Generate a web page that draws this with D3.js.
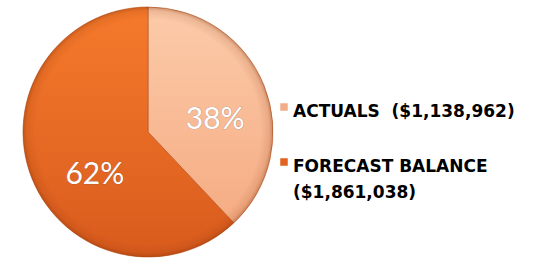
<!DOCTYPE html>
<meta charset="utf-8">
<title>Actuals vs Forecast Balance</title>
<script src="https://d3js.org/d3.v7.min.js"></script>
<style>
  body { margin: 0; background: #fff; }
</style>
<body>
<svg width="540" height="265"></svg>
<script>

// Data
var labels = ["ACTUALS  ($1,138,962)", "FORECAST BALANCE"];
var labelLines2 = ["", "($1,861,038)"];
var amounts = [1138962, 1861038];
var percents = ["38%", "62%"];

var svg = d3.select("svg"),
    cx = 148, cy = 132, radius = 125;

var defs = svg.append("defs");

// vertical shading for each slice
var grads = [
  {id: "gLight", top: "#FCCBAA", bottom: "#F4A77D"},
  {id: "gDark",  top: "#F67A2C", bottom: "#D95B1D"}
];
grads.forEach(function(d) {
  var lg = defs.append("linearGradient")
      .attr("id", d.id)
      .attr("gradientUnits", "userSpaceOnUse")
      .attr("x1", 0).attr("y1", -radius).attr("x2", 0).attr("y2", radius);
  lg.append("stop").attr("offset", "0%").attr("stop-color", d.top);
  lg.append("stop").attr("offset", "100%").attr("stop-color", d.bottom);
});

// rim darkening
var rg = defs.append("radialGradient")
    .attr("id", "rim")
    .attr("gradientUnits", "userSpaceOnUse")
    .attr("cx", 0).attr("cy", 0).attr("r", radius);
rg.append("stop").attr("offset", "90%").attr("stop-color", "#7a2a00").attr("stop-opacity", 0);
rg.append("stop").attr("offset", "97%").attr("stop-color", "#7a2a00").attr("stop-opacity", 0.12);
rg.append("stop").attr("offset", "100%").attr("stop-color", "#7a2a00").attr("stop-opacity", 0.35);

var fills = ["url(#gLight)", "url(#gDark)"];
var swatch = ["#F0AD88", "#E2621F"];

var pie = d3.pie().sort(null).value(function(d) { return d; });
var arc = d3.arc().innerRadius(0).outerRadius(radius);
var labelArc = d3.arc().innerRadius(68).outerRadius(68);

var arcs = pie(amounts);

var g = svg.append("g")
    .attr("transform", "translate(" + cx + "," + cy + ")");

g.selectAll("path.slice")
  .data(arcs)
  .enter().append("path")
    .attr("class", "slice")
    .attr("d", arc)
    .attr("fill", function(d, i) { return fills[i]; })
    .attr("stroke", "#b9521c")
    .attr("stroke-opacity", 0.6)
    .attr("stroke-width", 1);

g.selectAll("path.rim")
  .data(arcs)
  .enter().append("path")
    .attr("class", "rim")
    .attr("d", arc)
    .attr("fill", "url(#rim)");

// percentage labels
var offsets = [[4, 22], [10, 27]];
g.selectAll("text.pct")
  .data(arcs)
  .enter().append("text")
    .attr("class", "pct")
    .attr("x", function(d, i) { return labelArc.centroid(d)[0] + offsets[i][0]; })
    .attr("y", function(d, i) { return labelArc.centroid(d)[1] + offsets[i][1]; })
    .attr("text-anchor", "middle")
    .style("font-family", "Lato, 'Open Sans', sans-serif")
    .style("font-size", "30px")
    .style("fill", "#fff")
    .style("stroke", "#3a4a70")
    .style("stroke-width", 0.6)
    .style("stroke-opacity", 0.5)
    .style("paint-order", "stroke")
    .text(function(d, i) { return percents[i]; });

// legend
var legendY = [117, 172];
var legend = svg.selectAll(".legend")
  .data(labels)
  .enter().append("g")
    .attr("class", "legend");

legend.append("rect")
    .attr("x", 280)
    .attr("y", function(d, i) { return legendY[i] - 14; })
    .attr("width", 8)
    .attr("height", 8)
    .attr("fill", function(d, i) { return swatch[i]; })
    .attr("stroke", "#fff")
    .attr("stroke-width", 0.5);

legend.append("text")
    .attr("x", 293)
    .attr("y", function(d, i) { return legendY[i]; })
    .style("font-family", "'DejaVu Sans', sans-serif")
    .style("font-weight", "bold")
    .style("font-size", "17px")
    .style("white-space", "pre")
    .style("fill", "#000")
    .text(function(d) { return d; });

legend.filter(function(d, i) { return labelLines2[i]; })
  .append("text")
    .attr("x", 293)
    .attr("y", legendY[1] + 26)
    .style("font-family", "'DejaVu Sans', sans-serif")
    .style("font-weight", "bold")
    .style("font-size", "17px")
    .style("fill", "#000")
    .text(labelLines2[1]);

</script>
</body>
